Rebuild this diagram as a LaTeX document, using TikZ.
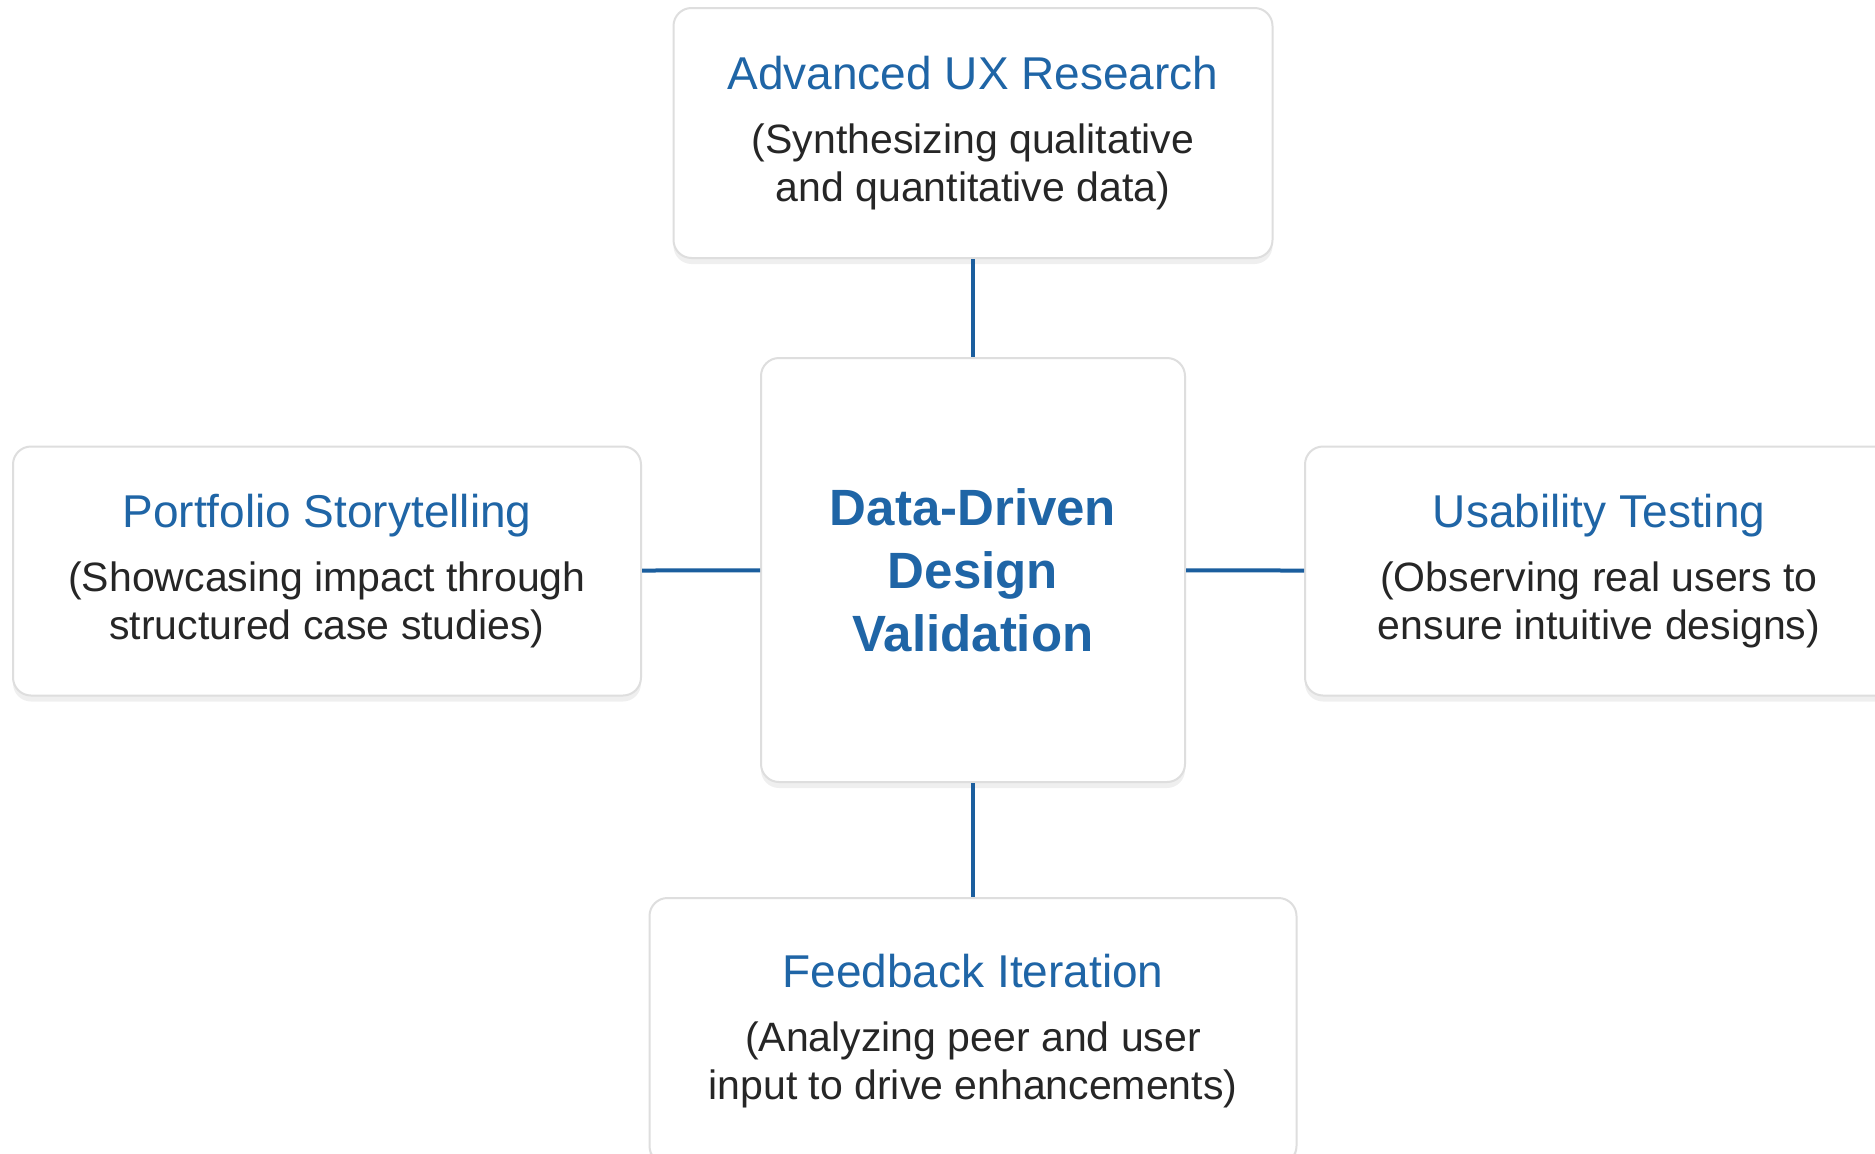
\documentclass[tikz,border=0pt]{standalone}
\usepackage{fontspec}
\setmainfont{Liberation Sans}
\usetikzlibrary{shadows}

\definecolor{headblue}{HTML}{1F65A6}
\definecolor{linkblue}{HTML}{1B5E9E}
\definecolor{cardline}{HTML}{DEDEDE}

\tikzset{
  card/.style={draw=cardline, line width=2pt, fill=white, rounded corners=18pt,
    align=center, inner sep=0pt, text=black!85,
    font=\fontsize{41}{48}\selectfont,
    drop shadow={opacity=0.12, shadow xshift=0pt, shadow yshift=-6pt}},
  hubcard/.style={card, text=headblue, font=\bfseries\fontsize{51}{63}\selectfont},
  link/.style={draw=linkblue, line width=4pt}
}

\newcommand{\cardhead}[1]{{\color{headblue}\fontsize{46}{48}\selectfont #1}\\[16pt]}

\begin{document}
\begin{tikzpicture}[x=1pt, y=-1pt]

\useasboundingbox (0,0) rectangle (1875,1154);
\fill[white] (0,0) rectangle (1875,1154);
\clip (0,0) rectangle (1875,1154);

\node[hubcard, minimum width=424pt, minimum height=424pt] (hub) at (973,570)
  {Data-Driven\\ Design\\ Validation};

\node[card, minimum width=599pt, minimum height=250pt] (research) at (973,133)
  {\cardhead{Advanced UX Research} (Synthesizing qualitative\\ and quantitative data)};

\node[card, minimum width=628pt, minimum height=249pt] (story) at (327,571)
  {\cardhead{Portfolio Storytelling} (Showcasing impact through\\ structured case studies)};

\node[card, minimum width=588pt, minimum height=249pt] (testing) at (1599,571)
  {\cardhead{Usability Testing} (Observing real users to\\ ensure intuitive designs)};

\node[card, minimum width=647pt, minimum height=266pt] (feedback) at (973,1031)
  {\cardhead{Feedback Iteration} (Analyzing peer and user\\ input to drive enhancements)};

% spokes
\draw[link] (research) -- (hub);
\draw[link] (story) -- (hub);
\draw[link] (hub) -- (testing);
\draw[link] (hub) -- (feedback);

\end{tikzpicture}
\end{document}
